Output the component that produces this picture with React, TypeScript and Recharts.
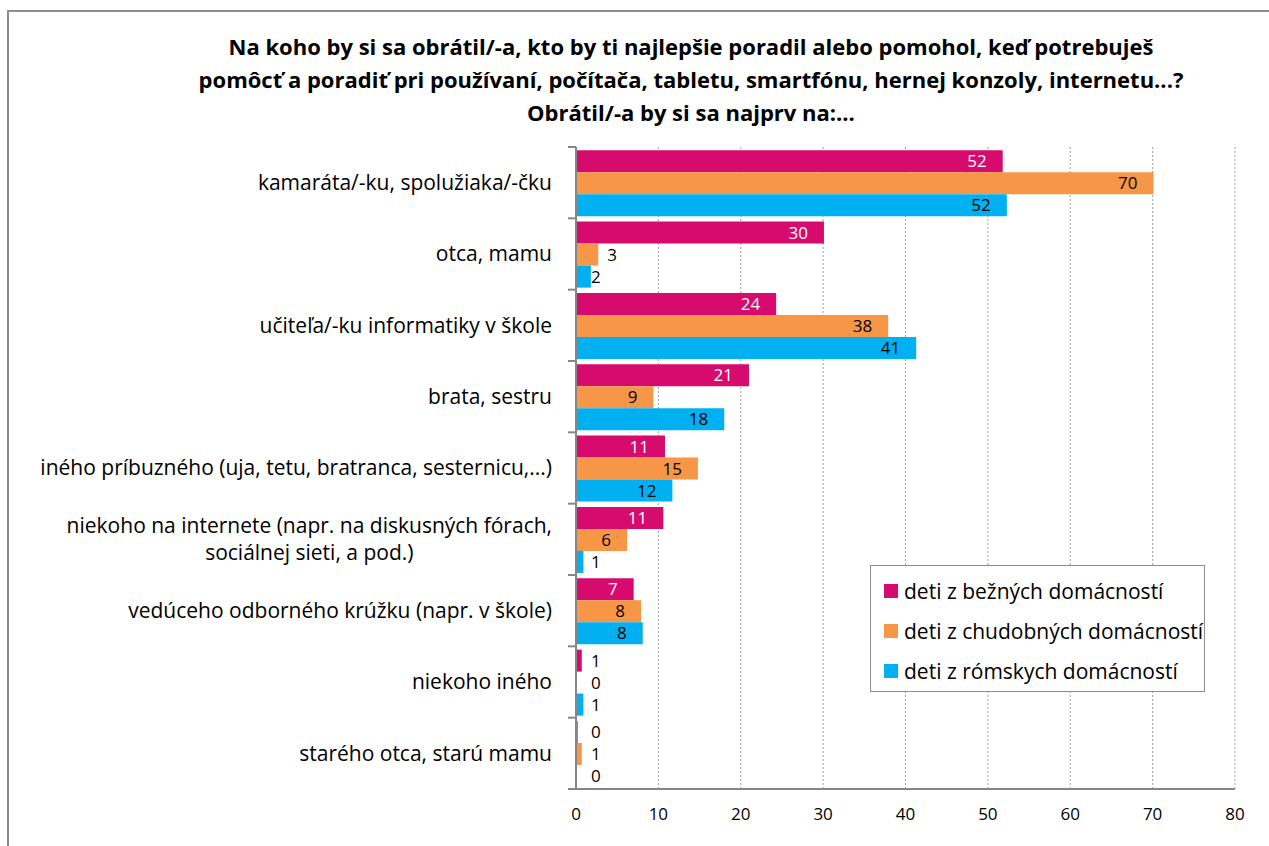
import React from "react";
import { BarChart, Bar, XAxis, YAxis, CartesianGrid, Legend, LabelList } from "recharts";

const categories = [
  "kamaráta/-ku, spolužiaka/-čku",
  "otca, mamu",
  "učiteľa/-ku informatiky v škole",
  "brata, sestru",
  "iného príbuzného (uja, tetu, bratranca, sesternicu,...)",
  "niekoho na internete (napr. na diskusných fórach,\nsociálnej sieti, a pod.)",
  "vedúceho odborného krúžku (napr. v škole)",
  "niekoho iného",
  "starého otca, starú mamu",
];

const bezne = [51.8, 30.1, 24.3, 21.0, 10.8, 10.6, 7.0, 0.7, 0.2];
const chudobne = [70.1, 2.7, 37.9, 9.4, 14.8, 6.2, 7.9, 0, 0.7];
const romske = [52.3, 1.8, 41.3, 18.0, 11.7, 0.9, 8.1, 0.9, 0];

const seriesNames = [
  "deti z bežných domácností",
  "deti z chudobných domácností",
  "deti z rómskych domácností",
];
const colors = ["#D60B6D", "#F79646", "#00B0F0"];
const xTicks = [0, 10, 20, 30, 40, 50, 60, 70, 80];

const titleLines = [
  "Na koho by si sa obrátil/-a, kto by ti najlepšie poradil alebo pomohol, keď potrebuješ",
  "pomôcť a poradiť pri používaní, počítača, tabletu, smartfónu, hernej konzoly, internetu...?",
  "Obrátil/-a by si sa najprv na:...",
];

const W = 1269;
const H = 846;
const PLOT_LEFT = 576;
const PLOT_TOP = 147;
const PLOT_BOTTOM = 789;
const PLOT_RIGHT = 1235;
const BAND = (PLOT_BOTTOM - PLOT_TOP) / categories.length;
const FONT = '"Open Sans", sans-serif';

const data = categories.map((cat, i) => ({
  cat,
  bezne: bezne[i],
  chudobne: chudobne[i],
  romske: romske[i],
}));

let measureCtx: CanvasRenderingContext2D | null = null;
const measure = (text: string, font: string) => {
  if (!measureCtx) measureCtx = document.createElement("canvas").getContext("2d");
  if (!measureCtx) return text.length * 10;
  measureCtx.font = font;
  return measureCtx.measureText(text).width;
};

const CategoryTick = (props: any) => {
  const { y, payload, index } = props;
  const lines: string[] = String(payload.value).split("\n");
  const right = PLOT_LEFT - 24;
  const w0 = measure(lines[0], `21px ${FONT}`);
  const lineH = 27;
  const top = y - ((lines.length - 1) * lineH) / 2;
  return (
    <g>
      <line x1={PLOT_LEFT - 8} x2={PLOT_LEFT} y1={y - BAND / 2} y2={y - BAND / 2} stroke="#868686" strokeWidth={2} />
      {index === categories.length - 1 && (
        <line x1={PLOT_LEFT - 8} x2={PLOT_LEFT} y1={y + BAND / 2} y2={y + BAND / 2} stroke="#868686" strokeWidth={2} />
      )}
      {lines.map((ln, i) => (
        <text
          key={i}
          x={lines.length > 1 ? right - w0 / 2 : right}
          y={top + i * lineH}
          dy="0.35em"
          textAnchor={lines.length > 1 ? "middle" : "end"}
          fontFamily={FONT}
          fontSize={21}
          fill="#000"
        >
          {ln}
        </text>
      ))}
    </g>
  );
};

const makeLabel = (insideColor: string) => (props: any) => {
  const { x, y, width, height, value } = props;
  const v = Number(value);
  const end = Number(x) + Number(width);
  const inside = v >= 5;
  const tx = inside ? end - 16 : v < 2 ? PLOT_LEFT + 15 : end + 9;
  return (
    <text
      x={tx}
      y={Number(y) + Number(height) / 2}
      dy="0.36em"
      textAnchor={inside ? "end" : "start"}
      fill={inside ? insideColor : "#000"}
      fontFamily={FONT}
      fontSize={17}
    >
      {Math.round(v)}
    </text>
  );
};

const LegendBox = (props: any) => {
  const payload = props.payload || [];
  return (
    <div
      style={{
        width: 335,
        height: 127,
        border: "1px solid #8c8c8c",
        background: "#fff",
        boxSizing: "border-box",
        paddingTop: 5,
        fontFamily: FONT,
        fontSize: 21,
      }}
    >
      {payload.map((p: any) => (
        <div key={p.value} style={{ display: "flex", alignItems: "center", height: 40, paddingLeft: 13 }}>
          <span style={{ width: 14, height: 14, background: p.color, marginRight: 6, flex: "none" }} />
          <span style={{ color: "#000", whiteSpace: "nowrap" }}>{p.value}</span>
        </div>
      ))}
    </div>
  );
};

export default function App() {
  return (
    <div style={{ position: "relative", width: W, height: H, overflow: "hidden", background: "#fff" }}>
      <style>{"body{margin:0;overflow:hidden;}"}</style>
      <div
        style={{
          position: "absolute",
          left: 7,
          top: 10,
          width: W,
          height: H,
          borderTop: "2px solid #8c8c8c",
          borderLeft: "2px solid #8c8c8c",
        }}
      />
      <div
        style={{
          position: "absolute",
          left: 191,
          top: 30,
          width: 1000,
          textAlign: "center",
          fontFamily: FONT,
          fontWeight: 700,
          fontSize: 22,
          lineHeight: "33px",
          color: "#000",
        }}
      >
        {titleLines.map((t) => (
          <div key={t} style={{ whiteSpace: "nowrap" }}>{t}</div>
        ))}
      </div>
      <div style={{ position: "absolute", left: 0, top: 0 }}>
        <BarChart
          width={W}
          height={H}
          data={data}
          layout="vertical"
          margin={{ top: PLOT_TOP, right: W - PLOT_RIGHT, bottom: H - PLOT_BOTTOM - 30, left: 0 }}
          barCategoryGap="4.6%"
          barGap={0}
        >
          <CartesianGrid horizontal={false} stroke="#a0a0a0" strokeDasharray="2 2" />
          <XAxis
            type="number"
            domain={[0, 80]}
            ticks={xTicks}
            height={30}
            axisLine={{ stroke: "#868686", strokeWidth: 2 }}
            tickLine={false}
            tickMargin={13}
            tick={{ fill: "#000", fontSize: 17, fontFamily: FONT }}
          />
          <YAxis
            type="category"
            dataKey="cat"
            width={PLOT_LEFT}
            interval={0}
            axisLine={{ stroke: "#868686", strokeWidth: 2 }}
            tickLine={false}
            tick={<CategoryTick />}
          />
          <Legend
            layout="vertical"
            align="center"
            verticalAlign="middle"
            content={<LegendBox />}
            wrapperStyle={{ position: "absolute", left: 870, top: 565, width: 335, height: 127 }}
          />
          <Bar dataKey="bezne" name={seriesNames[0]} fill={colors[0]} minPointSize={0.01} isAnimationActive={false}>
            <LabelList dataKey="bezne" content={makeLabel("#fff")} />
          </Bar>
          <Bar dataKey="chudobne" name={seriesNames[1]} fill={colors[1]} minPointSize={0.01} isAnimationActive={false}>
            <LabelList dataKey="chudobne" content={makeLabel("#000")} />
          </Bar>
          <Bar dataKey="romske" name={seriesNames[2]} fill={colors[2]} minPointSize={0.01} isAnimationActive={false}>
            <LabelList dataKey="romske" content={makeLabel("#000")} />
          </Bar>
        </BarChart>
      </div>
    </div>
  );
}
